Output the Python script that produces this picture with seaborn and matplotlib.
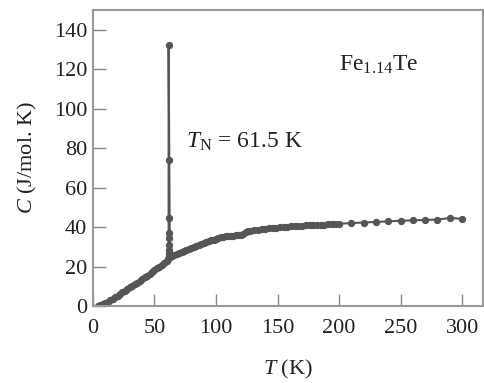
import matplotlib
matplotlib.use("Agg")
import matplotlib.pyplot as plt
import seaborn as sns
import pandas as pd

# Temperature (K) and specific heat (J/mol K)
T_low = [4, 6, 8, 10, 12, 14, 16, 18, 20, 22, 24, 26, 28, 30, 32, 34, 36, 38, 40,
         42, 44, 46, 48, 50, 52, 54, 56, 58, 60, 61]
C_low = [0.2, 0.4, 0.8, 1.4, 2.1, 2.9, 3.7, 4.5, 5.3, 6.1, 7.0, 7.8, 8.6, 9.4, 10.3,
         11.1, 11.9, 12.8, 13.6, 14.5, 15.4, 16.3, 17.2, 18.2, 19.1, 20.0, 21.0,
         22.0, 23.0, 24.0]

T_peak = [61.5, 61.5, 61.5, 61.5, 61.5, 61.5, 61.5, 61.5, 61.5]
C_peak = [25.5, 27.0, 28.5, 31.0, 34.5, 37.0, 44.5, 74.0, 132.0]

T_mid = [62.5, 64, 66, 68, 70, 72, 74, 76, 78, 80, 82, 84, 86, 88, 90, 92, 94, 96,
         98, 100, 102, 104, 106, 108, 110, 112, 114, 116, 118, 120, 122, 124, 126, 128]
C_mid = [25.0, 25.4, 25.9, 26.4, 26.9, 27.4, 27.9, 28.4, 28.9, 29.4, 29.9, 30.4,
         30.9, 31.4, 31.9, 32.4, 32.9, 33.3, 33.7, 34.1, 34.5, 34.8, 35.1, 35.3,
         35.5, 35.6, 35.7, 35.8, 35.9, 36.0, 36.4, 37.4, 37.9, 38.2]

T_high = [131, 134, 137, 140, 143, 146, 149, 152, 155, 158, 161, 164, 167, 170, 173,
          176, 179, 182, 185, 188, 191, 194, 197, 200]
C_high = [38.5, 38.7, 38.9, 39.1, 39.3, 39.5, 39.7, 39.8, 40.0, 40.1, 40.3, 40.4,
          40.6, 40.7, 40.8, 40.9, 41.0, 41.1, 41.2, 41.3, 41.4, 41.5, 41.6, 41.7]

T_sparse = [210, 220, 230, 240, 250, 260, 270, 280, 290, 300]
C_sparse = [42.0, 42.3, 42.6, 42.9, 43.2, 43.4, 43.6, 43.8, 44.6, 44.2]

x_ticks = [0, 50, 100, 150, 200, 250, 300]
y_ticks = [0, 20, 40, 60, 80, 100, 120, 140]

df = pd.DataFrame({
    "T": T_low + T_peak + T_mid + T_high + T_sparse,
    "C": C_low + C_peak + C_mid + C_high + C_sparse,
})

sns.set_style("ticks")
plt.rcParams["font.family"] = ["Liberation Serif", "DejaVu Serif"]
plt.rcParams["mathtext.fontset"] = "custom"
plt.rcParams["mathtext.rm"] = "Liberation Serif"
plt.rcParams["mathtext.it"] = "Liberation Serif:italic"

fig = plt.figure(figsize=(4.84, 3.83), dpi=100)
ax = fig.add_axes([0.192, 0.201, 0.806, 0.773])

col = "#555555"
sns.lineplot(data=df, x="T", y="C", sort=False, estimator=None, ax=ax,
             color=col, linewidth=1.5, marker="o", markersize=4.5,
             markeredgecolor=col, markerfacecolor=col)

ax.set_xlim(0, 317)
ax.set_ylim(0, 150)
ax.set_xticks(x_ticks)
ax.set_yticks(y_ticks)
ax.tick_params(direction="in", length=9, width=1, color="#888888",
               labelsize=16, labelcolor="#222222")
ax.tick_params(axis="x", pad=9)
ax.tick_params(axis="y", pad=4)
for s in ax.spines.values():
    s.set_color("#999999")
    s.set_linewidth(1.5)

ax.set_xlabel(r"$T$ (K)", fontsize=16, color="#222222", labelpad=15)
ax.set_ylabel(r"$C$ (J/mol. K)", fontsize=16, color="#222222", labelpad=11)

ax.text(200, 122, r"Fe$_{1.14}$Te", fontsize=17, color="#222222", va="center")
ax.text(76, 83, r"$T_{\mathrm{N}}$ = 61.5 K", fontsize=17, color="#222222", va="center")

fig.savefig("out.png", dpi=100)
